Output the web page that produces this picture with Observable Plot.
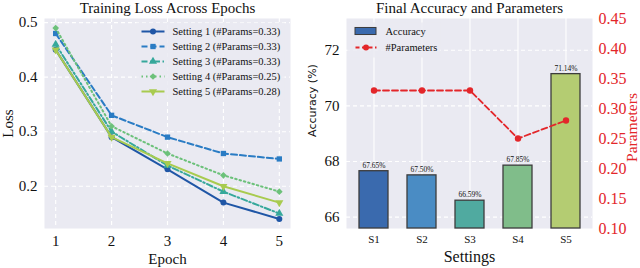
<!DOCTYPE html>
<html><head><meta charset="utf-8">
<script src="https://cdn.jsdelivr.net/npm/d3@7"></script>
<script src="https://cdn.jsdelivr.net/npm/@observablehq/plot@0.6"></script>
<style>
body{margin:0;background:#fff;}
#c{position:relative;width:640px;height:268px;overflow:hidden;}
#c svg{position:absolute;overflow:visible;}
#c svg text{font-family:"Liberation Serif","Times New Roman",serif;}
</style></head><body><div id="c"></div>
<script>
// ---- data ----
const epochs = [1, 2, 3, 4, 5];
const settingNames = ["Setting 1 (#Params=0.33)", "Setting 2 (#Params=0.33)", "Setting 3 (#Params=0.33)", "Setting 4 (#Params=0.25)", "Setting 5 (#Params=0.28)"];
const loss1 = [0.45, 0.29, 0.231, 0.17, 0.14];
const loss2 = [0.48, 0.33, 0.29, 0.26, 0.25];
const loss3 = [0.46, 0.30, 0.238, 0.19, 0.15];
const loss4 = [0.49, 0.31, 0.26, 0.22, 0.19];
const loss5 = [0.45, 0.29, 0.242, 0.20, 0.17];
const lossTicks = [0.2, 0.3, 0.4, 0.5];
const categories = ["S1", "S2", "S3", "S4", "S5"];
const accuracy = [67.65, 67.50, 66.59, 67.85, 71.14];
const params = [0.33, 0.33, 0.33, 0.25, 0.28];
const accTicks = [66, 68, 70, 72];
const paramTicks = [0.10, 0.15, 0.20, 0.25, 0.30, 0.35, 0.40, 0.45];
const legendRight = ["Accuracy", "#Parameters"];

// ---- styles ----
const serif = "'Liberation Serif', 'Times New Roman', serif";
const bg = "#eaeaf2";
const red = "#e3262a";
const lineColors = ["#1f56a6", "#2a7cc4", "#36a89b", "#6cc17a", "#a8cb4f"];
const barColors = ["#3a6aae", "#4a8cc4", "#50aaa0", "#80bd8a", "#b4cc72"];
const dashes = [null, "6,3", "6,2.5,1.5,2.5", "1.5,3", null];
const triDown = {draw(ctx, size) {
  const s3 = Math.sqrt(3); const y = -Math.sqrt(size / (s3 * 3));
  ctx.moveTo(0, -y * 2); ctx.lineTo(-s3 * y, y); ctx.lineTo(s3 * y, y); ctx.closePath();
}};
const symbols = ["circle", "square", "triangle", "diamond2", triDown];

const container = document.getElementById("c");
function place(svg, left, top) { svg.style.left = left + "px"; svg.style.top = top + "px"; container.appendChild(svg); }
const baseStyle = {fontFamily: serif, fontSize: "15px", background: "transparent", overflow: "visible", color: "#111"};
const lab = {textAnchor: "middle", lineAnchor: "middle"};

// ---- left panel ----
const lossSeries = [loss1, loss2, loss3, loss4, loss5];
const lossRows = lossSeries.flatMap((arr, i) => arr.map((v, j) => ({i, epoch: epochs[j], loss: v})));
const lineMarks = lossSeries.flatMap((arr, i) => {
  const d = lossRows.filter(r => r.i === i);
  return [
    Plot.line(d, {x: "epoch", y: "loss", stroke: lineColors[i], strokeWidth: 2, strokeDasharray: dashes[i]}),
    Plot.dot(d, {x: "epoch", y: "loss", fill: lineColors[i], stroke: null, r: 3, symbol: symbols[i]})
  ];
});
const left = Plot.plot({
  width: 300, height: 268, marginLeft: 44, marginRight: 10, marginTop: 18, marginBottom: 40,
  style: baseStyle,
  x: {domain: [0.8, 5.2], axis: null},
  y: {domain: [0.1225, 0.5075], axis: null},
  marks: [
    Plot.frame({fill: bg, stroke: null}),
    Plot.gridX({ticks: epochs, stroke: "white", strokeOpacity: 1, strokeWidth: 1.1, strokeDasharray: "4,3"}),
    Plot.gridY({ticks: lossTicks, stroke: "white", strokeOpacity: 1, strokeWidth: 1.1, strokeDasharray: "4,3"}),
    Plot.axisX({ticks: epochs, tickSize: 0, tickPadding: 7, tickFormat: d => String(d), label: null}),
    Plot.axisY({ticks: lossTicks, tickSize: 0, tickPadding: 7, tickFormat: d => d.toFixed(1), label: null}),
    ...lineMarks,
    Plot.text(["Training Loss Across Epochs"], {...lab, text: d => d, frameAnchor: "top", dy: -10}),
    Plot.text(["Epoch"], {...lab, text: d => d, frameAnchor: "bottom", dy: 31}),
    Plot.text(["Loss"], {...lab, text: d => d, frameAnchor: "left", dx: -36, rotate: -90})
  ]
});
place(left, 0, 0);

// left legend
const legRows = settingNames.map((name, i) => ({name, i}));
const legendLeft = Plot.plot({
  width: 148, height: 77, margin: 0, style: {...baseStyle, fontSize: "10.5px"},
  x: {domain: [0, 1], range: [5, 28], axis: null},
  y: {domain: [0, 4], range: [9, 69], axis: null},
  marks: [
    Plot.frame({fill: bg, fillOpacity: 0.85, stroke: null}),
    ...legRows.flatMap(r => [
      Plot.link([r], {x1: () => 0, x2: () => 1, y1: "i", y2: "i", stroke: lineColors[r.i], strokeWidth: 2, strokeDasharray: dashes[r.i]}),
      Plot.dot([r], {x: () => 0.5, y: "i", fill: lineColors[r.i], stroke: null, r: 3, symbol: symbols[r.i]})
    ]),
    Plot.text(legRows, {x: () => 1, y: "i", text: "name", textAnchor: "start", dx: 8})
  ]
});
place(legendLeft, 136, 22);

// ---- right panel ----
const accRows = categories.map((c, i) => ({cat: c, acc: accuracy[i], p: params[i]}));
const accMin = d3.min(accuracy) - 1, accMax = d3.max(accuracy) + 2;
const xBand = {type: "band", domain: categories, paddingInner: 0.4, paddingOuter: 0.23, axis: null};
const rightA = Plot.plot({
  width: 340, height: 268, marginLeft: 46, marginRight: 48, marginTop: 18, marginBottom: 40,
  style: baseStyle,
  x: xBand,
  y: {domain: [accMin, accMax], axis: null},
  color: {domain: categories, range: barColors},
  marks: [
    Plot.frame({fill: bg, stroke: null}),
    Plot.gridX({stroke: "white", strokeOpacity: 1, strokeWidth: 1.1}),
    Plot.gridY({ticks: accTicks, stroke: "white", strokeOpacity: 1, strokeWidth: 1.1, strokeDasharray: "4,3"}),
    Plot.barY(accRows, {x: "cat", y1: () => accMin, y2: "acc", fill: "cat", stroke: "#3c3c3c", strokeWidth: 1.3}),
    Plot.text(accRows, {x: "cat", y: "acc", text: d => d.acc.toFixed(2) + "%", dy: -6, fontSize: 7.5}),
    Plot.axisX({tickSize: 0, tickPadding: 7, label: null, fontSize: 11}),
    Plot.axisY({ticks: accTicks, tickSize: 0, tickPadding: 7, tickFormat: d => String(d), label: null}),
    Plot.text(["Final Accuracy and Parameters"], {...lab, text: d => d, frameAnchor: "top", dy: -10}),
    Plot.text(["Settings"], {...lab, text: d => d, frameAnchor: "bottom", dy: 28, fontSize: 16}),
    Plot.text(["Accuracy (%)"], {...lab, text: d => d, frameAnchor: "left", dx: -34, dy: -23, rotate: -90, fontSize: 11, className: "sans"})
  ]
});
rightA.querySelectorAll(".sans text").forEach(t => t.style.fontFamily = "'DejaVu Sans', sans-serif");
place(rightA, 300, 0);

const rightB = Plot.plot({
  width: 340, height: 268, marginLeft: 46, marginRight: 48, marginTop: 18, marginBottom: 40,
  style: baseStyle,
  x: xBand,
  y: {domain: [0.10, 0.45], axis: null},
  marks: [
    Plot.line(accRows, {x: "cat", y: "p", stroke: red, strokeWidth: 1.8, strokeDasharray: "6,3"}),
    Plot.dot(accRows, {x: "cat", y: "p", fill: red, stroke: null, r: 3.2}),
    Plot.axisY({anchor: "right", ticks: paramTicks, tickSize: 0, tickPadding: 6, tickFormat: d => d.toFixed(2), label: null, fill: red, fontSize: 16}),
    Plot.text(["Parameters"], {...lab, text: d => d, frameAnchor: "right", dx: 40, dy: 4, rotate: -90, fill: red, fontSize: 15.5})
  ]
});
place(rightB, 300, 0);

// right legend
const legendR = Plot.plot({
  width: 93, height: 35, margin: 0, style: {...baseStyle, fontSize: "10.5px"},
  x: {domain: [0, 1], range: [8, 29], axis: null},
  y: {domain: [0, 1], range: [9, 25], axis: null},
  marks: [
    Plot.frame({fill: bg, fillOpacity: 0.85, stroke: null}),
    Plot.rect([0], {x1: () => 0, x2: () => 1, y1: () => -0.22, y2: () => 0.22, fill: barColors[0], stroke: "#3c3c3c", strokeWidth: 1}),
    Plot.link([1], {x1: () => 0, x2: () => 1, y1: () => 1, y2: () => 1, stroke: red, strokeWidth: 1.8, strokeDasharray: "4,2.5"}),
    Plot.dot([1], {x: () => 0.5, y: () => 1, fill: red, stroke: null, r: 3}),
    Plot.text(legendRight, {x: () => 1, y: (d, i) => i, text: d => d, textAnchor: "start", dx: 9})
  ]
});
place(legendR, 347, 22);
</script></body></html>
